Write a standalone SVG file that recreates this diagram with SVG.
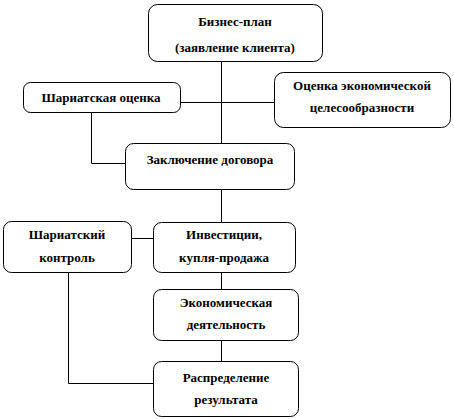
<svg xmlns="http://www.w3.org/2000/svg" width="454" height="419" viewBox="0 0 454 419">
<style>
.box{fill:#fff;stroke:#000;stroke-width:1}
.t{font-family:'Liberation Serif','Times New Roman',serif;font-weight:bold;font-size:13px;text-anchor:middle;fill:#000}
.c{fill:none;stroke:#000;stroke-width:1}
</style>
<rect width="454" height="419" fill="#fff"/>
<g id="connectors">
<path class="c" d="M221.5 62V143"/>
<path class="c" d="M180 102.5H274"/>
<path class="c" d="M91.5 112V163.5H125"/>
<path class="c" d="M221.5 189V222"/>
<path class="c" d="M131 238.5H153"/>
<path class="c" d="M68.5 272V383.5H153"/>
<path class="c" d="M221.5 272V289"/>
<path class="c" d="M221.5 340V361"/>
</g>
<g id="n1"><rect class="box" x="148.5" y="4.5" width="174" height="57" rx="9"/>
<text class="t" x="235" y="26">Бизнес-план</text><text class="t" x="235" y="52">(заявление клиента)</text></g>
<g id="n2"><rect class="box" x="23.5" y="82.5" width="157" height="30" rx="7"/>
<text class="t" x="101" y="102">Шариатская оценка</text></g>
<g id="n3"><rect class="box" x="274.5" y="72.5" width="176" height="55" rx="9"/>
<text class="t" x="362" y="90">Оценка экономической</text><text class="t" x="362" y="112">целесообразности</text></g>
<g id="n4"><rect class="box" x="125.5" y="143.5" width="169" height="46" rx="8"/>
<text class="t" x="210" y="164">Заключение договора</text></g>
<g id="n5"><rect class="box" x="3.5" y="221.5" width="128" height="51" rx="8"/>
<text class="t" x="67" y="239">Шариатский</text><text class="t" x="67" y="262">контроль</text></g>
<g id="n6"><rect class="box" x="153.5" y="222.5" width="142" height="50" rx="8"/>
<text class="t" x="224" y="239">Инвестиции,</text><text class="t" x="224" y="262">купля-продажа</text></g>
<g id="n7"><rect class="box" x="153.5" y="289.5" width="145" height="51" rx="8"/>
<text class="t" x="226" y="307">Экономическая</text><text class="t" x="226" y="329">деятельность</text></g>
<g id="n8"><rect class="box" x="153.5" y="361.5" width="145" height="55" rx="8"/>
<text class="t" x="226" y="382">Распределение</text><text class="t" x="226" y="404">результата</text></g>
</svg>
